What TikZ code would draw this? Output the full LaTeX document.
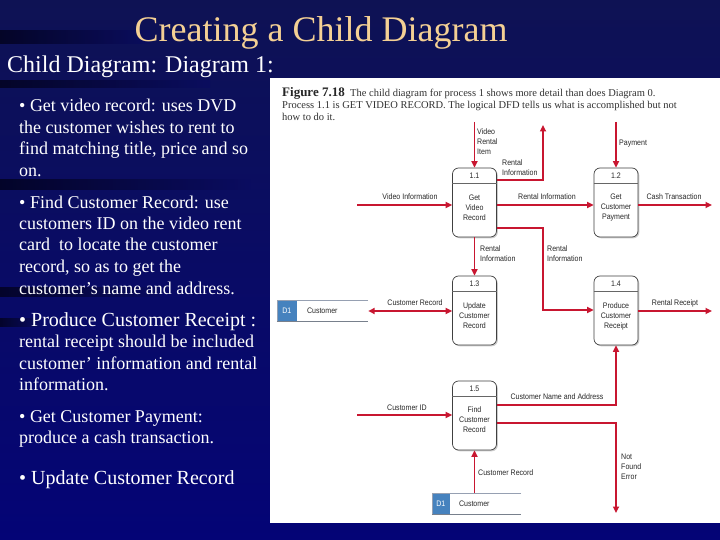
\documentclass[tikz,border=0pt]{standalone}
\usepackage{fontspec}
\setmainfont{Liberation Serif}
\newfontfamily\dfd[FakeStretch=0.88]{Liberation Sans}
\usetikzlibrary{arrows.meta,shadows,calc}
\definecolor{bgtop}{RGB}{14,18,84}
\definecolor{bgbot}{RGB}{4,4,118}
\definecolor{bgcol}{RGB}{10,12,96}
\definecolor{streak}{RGB}{2,2,28}
\definecolor{titlecol}{RGB}{244,208,148}
\definecolor{flowred}{RGB}{200,22,48}
\definecolor{tabblue}{RGB}{70,130,190}
\definecolor{storeline}{RGB}{150,160,178}
\definecolor{storeshadow}{RGB}{120,128,140}
\definecolor{dfdtext}{RGB}{40,40,40}
\definecolor{captext}{RGB}{50,50,50}
\begin{document}
\begin{tikzpicture}[x=1pt,y=-1pt,
 bodyline/.style={anchor=base west, inner sep=0pt, text=white, font=\fontsize{18}{21.5}\selectfont},
 bigline/.style={anchor=base west, inner sep=0pt, text=white, font=\fontsize{20}{24}\selectfont},
 proc/.style={draw=black!75, line width=0.7pt, fill=white, rounded corners=6pt, minimum width=44pt, minimum height=69pt, inner sep=0pt, drop shadow={shadow xshift=1.3pt, shadow yshift=-1.3pt, opacity=0.4}},
 divider/.style={draw=black!60, line width=0.5pt},
 pnum/.style={font=\dfd\fontsize{8}{10}\selectfont, text=dfdtext, inner sep=0pt},
 ptext/.style={font=\dfd\fontsize{8}{10}\selectfont, text=dfdtext, align=center, inner sep=0pt},
 lbl/.style={font=\dfd\fontsize{8}{10}\selectfont, text=dfdtext, inner sep=0pt},
 lblw/.style={lbl, align=left, anchor=north west},
 flow/.style={draw=flowred, line width=1.6pt, -{Triangle[length=6.5pt,width=6pt]}},
 flowboth/.style={draw=flowred, line width=1.6pt, {Triangle[length=6.5pt,width=6pt]}-{Triangle[length=6.5pt,width=6pt]}},
 store/.style={minimum width=91pt, minimum height=21pt, inner sep=0pt},
 storeB/.style={minimum width=89pt, minimum height=21pt, inner sep=0pt},
 captxt/.style={anchor=base west, inner sep=0pt, text=captext, font=\fontsize{10.5}{12}\selectfont},
 streakband/.style={left color=streak, right color=bgcol, opacity=0.8},
]
\useasboundingbox (0,0) rectangle (720,540);
% background
\shade[top color=bgtop, bottom color=bgbot] (0,0) rectangle (720,540);
\shade[streakband] (0,31) rectangle (150,44);
\shade[streakband] (0,81) rectangle (210,88);
\shade[streakband] (0,180) rectangle (250,190);
\shade[streakband] (0,287) rectangle (160,296);
\shade[streakband] (0,318) rectangle (40,326);
% title
\node[anchor=base, inner sep=0pt, text=titlecol, font=\fontsize{36}{40}\selectfont] (title) at (321,42) {Creating a Child Diagram};
\node[anchor=base west, inner sep=0pt, text=white, font=\fontsize{24}{28}\selectfont] (sub) at (7,73) {Child Diagram: Diagram 1:};
% body text
\node[bodyline] (l1) at (19,112) {• Get video record: uses DVD};
\node[bodyline] (l2) at (19,133.5) {the customer wishes to rent to};
\node[bodyline] (l3) at (19,155) {find matching title, price and so};
\node[bodyline] (l4) at (19,176.5) {on.};
\node[bodyline] (l5) at (19,208) {• Find Customer Record: use};
\node[bodyline] (l6) at (19,229.5) {customers ID on the video rent};
\node[bodyline] (l7) at (19,251) {card\ \ to locate the customer};
\node[bodyline] (l8) at (19,272.5) {record, so as to get the};
\node[bodyline] (l9) at (19,294) {customer’s name and address.};
\node[bigline] (l10) at (19,326) {• Produce Customer Receipt :};
\node[bodyline] (l11) at (19,347.5) {rental receipt should be included};
\node[bodyline] (l12) at (19,369) {customer’ information and rental};
\node[bodyline] (l13) at (19,390.5) {information.};
\node[bodyline] (l14) at (19,422) {• Get Customer Payment:};
\node[bodyline] (l15) at (19,443.5) {produce a cash transaction.};
\node[bigline] (l16) at (19,484.5) {• Update Customer Record};
% white panel
\fill[white] (270,78) rectangle (720,523);
% caption
\node[anchor=base west, inner sep=0pt, text=black!85, font=\bfseries\fontsize{13}{13}\selectfont] (figno) at (282,97) {Figure 7.18};
\node[captxt] (cap1) at ([xshift=5pt]figno.base east) {The child diagram for process 1 shows more detail than does Diagram 0.};
\node[captxt] (cap2) at (282,109) {Process 1.1 is GET VIDEO RECORD. The logical DFD tells us what is accomplished but not};
\node[captxt] (cap3) at (282,121) {how to do it.};
% processes
\node[proc] (p11) at (474.5,202.5) {};
\node[proc] (p12) at (616,202.5) {};
\node[proc] (p13) at (474.5,310.5) {};
\node[proc] (p14) at (616,310.5) {};
\node[proc] (p15) at (474.5,415.5) {};
\foreach \p/\n in {p11/1.1,p12/1.2,p13/1.3,p14/1.4,p15/1.5}{
  \draw[divider] ([yshift=-16pt]\p.north west) -- ([yshift=-16pt]\p.north east);
  \node[pnum] (\p n) at ([yshift=-8pt]\p.north) {\n};
}
\node[ptext] (p11t) at (474.5,208) {Get\\Video\\Record};
\node[ptext] (p12t) at (616,208) {Get\\Customer\\Payment};
\node[ptext] (p13t) at (474.5,316) {Update\\Customer\\Record};
\node[ptext] (p14t) at (616,316) {Produce\\Customer\\Receipt};
\node[ptext] (p15t) at (474.5,420) {Find\\Customer\\Record};
% data stores
\node[store] (sA) at (322.5,310.5) {};
\fill[tabblue] (sA.north west) rectangle ([xshift=20pt]sA.south west);
\draw[storeline, line width=0.6pt] (sA.north east) -- (sA.north west) -- (sA.south west);
\draw[storeshadow, line width=1.1pt] (sA.south west) -- (sA.south east);
\node[lbl, text=white] (sAid) at ([xshift=10pt]sA.west) {D1};
\node[lbl, anchor=west] (sAname) at ([xshift=30pt]sA.west) {Customer};
\node[storeB] (sB) at (476.5,503.5) {};
\fill[tabblue] (sB.north west) rectangle ([xshift=18pt]sB.south west);
\draw[storeline, line width=0.6pt] (sB.north east) -- (sB.north west) -- (sB.south west);
\draw[storeshadow, line width=1.1pt] (sB.south west) -- (sB.south east);
\node[lbl, text=white] (sBid) at ([xshift=9pt]sB.west) {D1};
\node[lbl, anchor=west] (sBname) at ([xshift=27pt]sB.west) {Customer};
% helper rows
\coordinate (h180) at (0,180);
\coordinate (h205) at (0,205);
\coordinate (h228) at (0,228);
\coordinate (h310) at (0,310);
\coordinate (h311) at (0,311);
\coordinate (h405) at (0,405);
\coordinate (h423) at (0,423);
% free ends
\coordinate (vriS) at (474.5,122);
\coordinate (riUp) at (543,125);
\coordinate (payS) at (616,122);
\coordinate (viS) at (357,205);
\coordinate (cashE) at (712,205);
\coordinate (riDn) at (543,228);
\coordinate (rrE) at (712,311);
\coordinate (cidS) at (357,415);
\coordinate (nfE) at (616,513);
% flows
\draw[flow] (vriS) -- (p11.north);
\draw[flow] (p11.east |- h180) -- (riUp |- h180) -- (riUp);
\draw[flow] (payS) -- (p12.north);
\draw[flow] (viS) -- (viS -| p11.west);
\draw[flow] (p11.east |- h205) -- (p12.west |- h205);
\draw[flow] (p12.east |- cashE) -- (cashE);
\draw[flow] (p11.south) -- (p13.north);
\draw[flow] (p11.east |- h228) -- (riDn) -- (riDn |- h310) -- (p14.west |- h310);
\draw[flowboth] (sA.east |- h311) -- (p13.west |- h311);
\draw[flow] (p14.east |- rrE) -- (rrE);
\draw[flow] (p15.east |- h405) -- (p14.south |- h405) -- (p14.south);
\draw[flow] (cidS) -- (cidS -| p15.west);
\draw[flow] (p15.east |- h423) -- (nfE |- h423) -- (nfE);
\draw[flow] (sB.north -| p15.south) -- (p15.south);
% flow labels
\node[lblw] (lvri) at (477,129) {Video\\Rental\\Item};
\node[lblw] (lri1) at (502,160) {Rental\\Information};
\node[lbl, anchor=west] (lpay) at (619,144) {Payment};
\node[lbl] (lvi) at (410,197) {Video Information};
\node[lbl] (lri2) at (547,197) {Rental Information};
\node[lbl] (lcash) at (674,197) {Cash Transaction};
\node[lblw] (lri3) at (480,246) {Rental\\Information};
\node[lblw] (lri4) at (547,246) {Rental\\Information};
\node[lbl] (lcr1) at (415,303) {Customer Record};
\node[lbl] (lrr) at (675,303) {Rental Receipt};
\node[lbl] (lcna) at (557,397) {Customer Name and Address};
\node[lbl] (lcid) at (407,408) {Customer ID};
\node[lblw] (lnf) at (621,454) {Not\\Found\\Error};
\node[lbl, anchor=west] (lcr2) at (478,473) {Customer Record};
\end{tikzpicture}
\end{document}
